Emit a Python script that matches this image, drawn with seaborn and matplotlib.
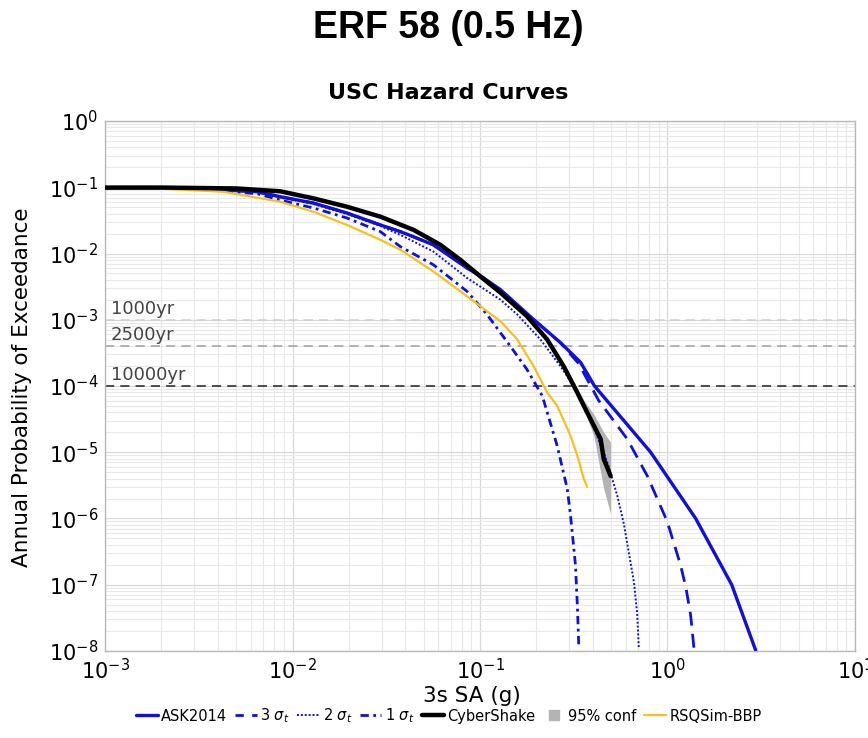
import numpy as np
import pandas as pd
import matplotlib
matplotlib.use("Agg")
import matplotlib.pyplot as plt
from matplotlib.lines import Line2D
from matplotlib.ticker import LogLocator, NullFormatter
import seaborn as sns

# ---------------- data ----------------
ask_x = [0.001, 0.00284, 0.00646, 0.00859, 0.0129, 0.0195, 0.0294, 0.0376, 0.044, 0.0564,
         0.0853, 0.104, 0.1285, 0.193, 0.268, 0.344, 0.408, 0.813, 1.413, 2.2, 2.95]
ask_y = [0.098, 0.097, 0.0856, 0.072, 0.0579, 0.0409, 0.027, 0.0214, 0.018, 0.0135,
         0.00603, 0.00431, 0.00285, 0.00101, 4.54e-4, 2.27e-4, 1e-4, 1e-5, 1e-6, 1e-7, 1.03e-8]

s3_x = [0.001, 0.00284, 0.00646, 0.00859, 0.0129, 0.0195, 0.0294, 0.0376, 0.0564, 0.104,
        0.193, 0.268, 0.335, 0.4285, 0.61, 0.78, 0.998, 1.175, 1.256, 1.328, 1.384]
s3_y = [0.098, 0.097, 0.0856, 0.072, 0.0579, 0.0409, 0.027, 0.0214, 0.0135, 0.00431,
        0.00101, 4.5e-4, 2.2e-4, 6.1e-5, 1.58e-5, 4.4e-6, 8.9e-7, 1.96e-7, 8.8e-8, 3.5e-8, 1.1e-8]

s2_x = [0.001, 0.00284, 0.00646, 0.00859, 0.0129, 0.0195, 0.0294, 0.0376, 0.0564, 0.0853,
        0.1285, 0.158, 0.21, 0.268, 0.316, 0.388, 0.478, 0.54, 0.585, 0.662, 0.689, 0.703]
s2_y = [0.098, 0.097, 0.085, 0.070, 0.056, 0.0395, 0.026, 0.0191, 0.0107, 0.00427,
        0.00201, 0.0012, 5.04e-4, 2.0e-4, 1.0e-4, 3.2e-5, 7.0e-6, 2.2e-6, 8.3e-7, 1.1e-7,
        3.7e-8, 1.1e-8]

s1_x = [0.001, 0.00284, 0.00646, 0.00859, 0.0129, 0.0195, 0.0294, 0.0376, 0.0564, 0.0853,
        0.109, 0.145, 0.178, 0.215, 0.258, 0.292, 0.304, 0.323, 0.331, 0.3366]
s1_y = [0.098, 0.096, 0.080, 0.0641, 0.0487, 0.0344, 0.0214, 0.0127, 0.00676, 0.00268,
        0.0012, 4.0e-4, 1.78e-4, 7.07e-5, 1.25e-5, 2.8e-6, 1.11e-6, 1.97e-7, 4.4e-8, 1.1e-8]

cs_x = [0.001, 0.002, 0.005, 0.00859, 0.0129, 0.0195, 0.0294, 0.0443, 0.0615, 0.0785,
        0.1004, 0.1285, 0.178, 0.228, 0.279, 0.330, 0.358, 0.405, 0.44, 0.457, 0.497]
cs_y = [0.099, 0.099, 0.096, 0.087, 0.0681, 0.0509, 0.036, 0.0227, 0.0135, 0.00804,
        0.00451, 0.00257, 0.00113, 5.04e-4, 2.0e-4, 8.0e-5, 5.0e-5, 2.5e-5, 1.58e-5, 7.9e-6, 4.4e-6]

conf_x = [0.279, 0.33, 0.358, 0.405, 0.457, 0.497]
conf_lo = [1.9e-4, 7.0e-5, 4.5e-5, 1.75e-5, 2.8e-6, 1.18e-6]
conf_hi = [2.1e-4, 9.0e-5, 6.1e-5, 3.75e-5, 2.0e-5, 1.42e-5]

rsq_x = [0.001, 0.002, 0.00427, 0.00859, 0.0129, 0.0195, 0.0294, 0.0376, 0.0564, 0.0853,
         0.1285, 0.158, 0.193, 0.228, 0.258, 0.304, 0.330, 0.358, 0.373]
rsq_y = [0.097, 0.095, 0.0856, 0.0605, 0.0428, 0.027, 0.0161, 0.0114, 0.00536, 0.00226,
         9.5e-4, 5.04e-4, 2.0e-4, 8.0e-5, 5.0e-5, 1.77e-5, 8.9e-6, 3.95e-6, 3.0e-6]

ret_labels = ["1000yr", "2500yr", "10000yr"]
ret_probs = [1e-3, 4e-4, 1e-4]
ret_colors = ["#cfcfcf", "#a0a0a0", "#222222"]

legend_labels = ["ASK2014", r"3 $\sigma_t$", r"2 $\sigma_t$", r"1 $\sigma_t$",
                 "CyberShake", "95% conf", "RSQSim-BBP"]

# ---------------- styling ----------------
sns.set_theme(style="white")
plt.rcParams["font.family"] = ["DejaVu Sans"]
plt.rcParams["axes.unicode_minus"] = False
plt.rcParams["mathtext.fontset"] = "dejavusans"
for k in ["text.color", "axes.labelcolor", "xtick.color", "ytick.color"]:
    plt.rcParams[k] = "black"

BLUE = "#1010D8"
GOLD = "#F4C21C"

fig = plt.figure(figsize=(8.68, 7.38), dpi=100)
ax = fig.add_axes([0.121, 0.118, 0.864, 0.718])

def line(x, y, **kw):
    df = pd.DataFrame({"x": x, "y": y})
    sns.lineplot(data=df, x="x", y="y", ax=ax, estimator=None, sort=False, **kw)

ax.fill_between(conf_x, conf_lo, conf_hi, color="#b4b4b4", lw=0, zorder=3)
line(ask_x, ask_y, color=BLUE, lw=2.4, zorder=4)
line(s3_x, s3_y, color=BLUE, lw=2.0, dashes=(5, 3), zorder=4)
line(s2_x, s2_y, color=BLUE, lw=1.4, dashes=(1, 1), zorder=4)
line(s1_x, s1_y, color=BLUE, lw=2.0, dashes=(3, 1.6, 1, 1.6), zorder=4)
line(rsq_x, rsq_y, color=GOLD, lw=1.6, zorder=5)
line(cs_x, cs_y, color="black", lw=3.2, zorder=6)

for lab, p, c in zip(ret_labels, ret_probs, ret_colors):
    ax.axhline(p, color=c, lw=1.1, dashes=(6, 4), zorder=2)
    ax.text(1.07e-3, p * 1.06, lab, fontsize=13, color="#444444",
            ha="left", va="bottom", zorder=7)

ax.set_xscale("log")
ax.set_yscale("log")
ax.set_xlim(1e-3, 10)
ax.set_ylim(1e-8, 1)
ax.xaxis.set_major_locator(LogLocator(base=10, numticks=20))
ax.yaxis.set_major_locator(LogLocator(base=10, numticks=20))
ax.xaxis.set_minor_locator(LogLocator(base=10, subs=np.arange(2, 10), numticks=50))
ax.yaxis.set_minor_locator(LogLocator(base=10, subs=np.arange(2, 10), numticks=50))
ax.xaxis.set_minor_formatter(NullFormatter())
ax.yaxis.set_minor_formatter(NullFormatter())
ax.grid(True, which="major", color="#d8d8d8", lw=0.9)
ax.grid(True, which="minor", color="#e8e8e8", lw=0.8)
ax.set_axisbelow(True)
ax.tick_params(which="both", length=0)
ax.tick_params(axis="both", labelsize=15, pad=5, colors="black")
for s in ax.spines.values():
    s.set_color("#b8b8b8")
    s.set_linewidth(1.0)

ax.set_xlabel("3s SA (g)", fontsize=15.5, color="black")
ax.set_ylabel("Annual Probability of Exceedance", fontsize=15.5, color="black")
ax.xaxis.set_label_coords(0.489, -0.066)
ax.yaxis.set_label_coords(-0.097, 0.497)

fig.text(0.516, 0.962, "ERF 58 (0.5 Hz)", ha="center", va="center", color="black",
         fontsize=27, fontweight="bold", family=["Liberation Sans", "DejaVu Sans"])
fig.text(0.516, 0.874, "USC Hazard Curves", ha="center", va="center", color="black",
         fontsize=16, fontweight="bold")

handles = [
    Line2D([], [], color=BLUE, lw=2.4),
    Line2D([], [], color=BLUE, lw=2.0, dashes=(3, 3)),
    Line2D([], [], color=BLUE, lw=1.4, dashes=(1, 1)),
    Line2D([], [], color=BLUE, lw=2.0, dashes=(3, 1.6, 1, 1.6)),
    Line2D([], [], color="black", lw=3.2),
    Line2D([], [], marker="s", color="#b4b4b4", linestyle="none", markersize=7),
    Line2D([], [], color=GOLD, lw=1.6),
]
leg = fig.legend(handles, legend_labels, loc="center", bbox_to_anchor=(0.517, 0.030),
                 ncol=7, frameon=False, fontsize=10.5, handlelength=1.5,
                 handletextpad=0.25, columnspacing=0.5, borderaxespad=0)
for t in leg.get_texts():
    t.set_color("black")

fig.savefig("out.png", dpi=100)
